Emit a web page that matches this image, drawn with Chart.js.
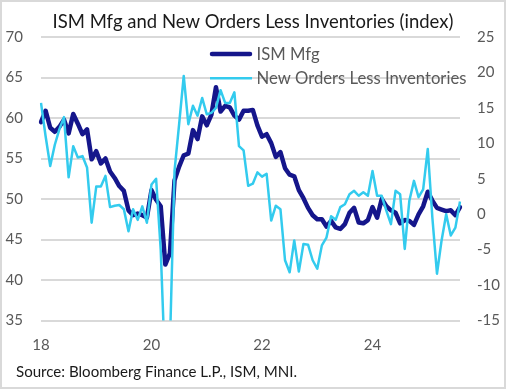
<!DOCTYPE html>
<html><head><meta charset="utf-8">
<script src="https://cdn.jsdelivr.net/npm/chart.js@4.4.1/dist/chart.umd.min.js"></script>
<style>html,body{margin:0;padding:0;background:#fff;}canvas{display:block;}</style>
</head><body>
<canvas id="c" width="506" height="389" style="width:506px;height:389px"></canvas>
<script>
// ---- data ----
const startYear = 2018;
const months = [];
for (let i = 0; i < 92; i++) {
  const y = startYear + Math.floor(i / 12), m = (i % 12) + 1;
  months.push(y + '-' + String(m).padStart(2, '0'));
}
const xTickLabels = ['18', '20', '22', '24'];
const leftTicks = [35, 40, 45, 50, 55, 60, 65, 70];
const rightTicks = [-15, -10, -5, 0, 5, 10, 15, 20, 25];

const ismMfg = [
  59.5, 60.9, 58.8, 58.3, 58.9, 59.8, 58.1, 60.5, 59.3, 58.0, 58.6, 54.9,
  55.9, 54.4, 55.0, 53.4, 52.6, 51.6, 51.0, 48.6, 48.0, 48.2, 48.0, 47.7,
  51.1, 49.9, 49.1, 41.9, 43.3, 52.3, 54.0, 55.4, 55.6, 58.5, 57.4, 60.2,
  59.1, 60.4, 63.8, 60.8, 61.5, 61.3, 60.3, 59.8, 60.9, 60.9, 61.0, 59.1,
  57.7, 58.0, 56.9, 55.2, 55.8, 53.8, 53.0, 52.8, 51.1, 50.1, 48.9, 48.0,
  47.5, 47.5, 46.6, 47.3, 46.5, 46.3, 46.9, 48.3, 48.9, 47.1, 47.0, 47.4,
  49.0, 47.7, 50.0, 49.1, 48.6, 48.3, 47.0, 47.4, 47.3, 46.8, 48.1, 49.1,
  50.9, 49.8, 48.9, 48.7, 48.5, 48.6, 48.0, 49.0
];
const newOrdersLessInv = [
  15.7, 11.0, 6.8, 9.8, 12.0, 13.7, 5.2, 9.6, 8.0, 8.2, 6.6, -1.2,
  3.9, 3.9, 5.4, 1.0, 1.2, 1.3, 0.7, -2.4, 0.7, -0.8, 1.1, -1.2,
  4.2, 5.0, -5.0, -22.6, -18.4, 6.1, 12.7, 19.5, 12.7, 15.3, 13.9, 16.4,
  14.1, 14.3, 15.0, 17.5, 15.7, 15.7, 17.2, 9.6, 9.0, 4.0, 4.3, 5.9,
  5.3, 5.7, -0.9, 1.2, 0.7, -6.5, -8.2, -3.7, -8.1, -4.2, -4.3, -6.5,
  -7.7, -4.4, -3.3, -0.3, -0.8, 1.0, 1.4, 2.8, 3.3, 2.6, 3.1, 2.6,
  6.1, 2.6, 2.6, 0.5, -1.4, 3.3, 2.8, -4.9, 1.9, 4.7, 2.4, 3.5,
  9.2, -0.5, -8.4, -3.7, 0.0, -3.0, -1.9, 1.8
];

// ---- style ----
const DARK = '#15168b';
const LIGHT = '#33cbee';
const FAMILY = 'Lato, "Open Sans", sans-serif';
const TITLE = 'ISM Mfg and New Orders Less Inventories (index)';
const SOURCE = 'Source: Bloomberg Finance L.P., ISM, MNI.';

function fitSize(text, width, weight) {
  const c = document.createElement('canvas').getContext('2d');
  c.font = (weight || 'normal') + ' 100px ' + FAMILY;
  return 100 * width / c.measureText(text).width;
}
const titleSize = fitSize(TITLE, 401);
const legendSize = fitSize('New Orders Less Inventories', 210);
const sourceSize = fitSize(SOURCE, 281);

const decor = {
  id: 'decor',
  beforeDraw(chart) {
    const ctx = chart.ctx;
    ctx.save(); ctx.fillStyle = '#fff'; ctx.fillRect(0, 0, chart.width, chart.height); ctx.restore();
  },
  afterDraw(chart) {
    const ctx = chart.ctx;
    ctx.save();
    // legend
    const rows = [{ y: 54, base: 59.5 }, { y: 78.3, base: 84 }];
    chart.data.datasets.forEach((ds, i) => {
      const r = rows[i];
      ctx.strokeStyle = ds.borderColor;
      ctx.lineWidth = ds.borderWidth;
      ctx.lineCap = i === 0 ? 'round' : 'butt';
      ctx.beginPath(); ctx.moveTo(i === 0 ? 212 : 210, r.y); ctx.lineTo(i === 0 ? 250 : 252, r.y); ctx.stroke();
      ctx.fillStyle = '#595959';
      ctx.font = legendSize.toFixed(2) + 'px ' + FAMILY;
      ctx.textBaseline = 'alphabetic'; ctx.textAlign = 'left';
      ctx.fillText(ds.label, 256.5, r.base);
    });
    // source
    ctx.fillStyle = '#1a1a1a';
    ctx.font = sourceSize.toFixed(2) + 'px ' + FAMILY;
    ctx.fillText(SOURCE, 16, 376.5);
    // frame
    ctx.strokeStyle = '#d9d9d9'; ctx.lineWidth = 2;
    ctx.strokeRect(1, 1, chart.width - 2, chart.height - 2);
    ctx.restore();
  }
};

new Chart(document.getElementById('c'), {
  type: 'line',
  data: {
    labels: months,
    datasets: [
      { label: 'ISM Mfg', data: ismMfg, yAxisID: 'yL', borderColor: DARK, borderWidth: 4.5,
        pointRadius: 0, tension: 0, order: 1, borderJoinStyle: 'round', borderCapStyle: 'round' },
      { label: 'New Orders Less Inventories', data: newOrdersLessInv, yAxisID: 'yR', borderColor: LIGHT, borderWidth: 2.5,
        pointRadius: 0, tension: 0, order: 0, borderJoinStyle: 'round' }
    ]
  },
  options: {
    responsive: false,
    animation: false,
    devicePixelRatio: 1,
    layout: { padding: { left: 0, right: 0, top: 0, bottom: 0 } },
    plugins: {
      legend: { display: false },
      tooltip: { enabled: false },
      title: {
        display: true, text: TITLE, color: '#1a1a1a',
        font: { family: FAMILY, size: titleSize, weight: 'normal', lineHeight: 1.2 },
        padding: { top: 11, bottom: 37 - 11 - titleSize * 1.2 }
      }
    },
    scales: {
      x: {
        type: 'category',
        grid: { display: false }, border: { display: false },
        ticks: {
          autoSkip: false, maxRotation: 0, minRotation: 0, padding: 8,
          color: '#595959', font: { family: FAMILY, size: 15 },
          callback: function (v, i) {
            const lab = months[i];
            const yy = lab.slice(2, 4);
            return (lab.endsWith('-01') && xTickLabels.includes(yy)) ? yy : '';
          }
        },
        afterFit(s) { s.height = 389 - 320.5; }
      },
      yL: {
        position: 'left', min: leftTicks[0], max: leftTicks[leftTicks.length - 1],
        afterBuildTicks(s) { s.ticks = leftTicks.map(v => ({ value: v })); },
        grid: { color: '#d9d9d9', lineWidth: 2, drawTicks: false }, border: { display: false },
        ticks: { padding: 18, color: '#595959', font: { family: FAMILY, size: 15 } },
        afterFit(s) { s.width = 41; }
      },
      yR: {
        position: 'right', min: rightTicks[0], max: rightTicks[rightTicks.length - 1],
        afterBuildTicks(s) { s.ticks = rightTicks.map(v => ({ value: v })); },
        grid: { drawOnChartArea: false, drawTicks: false }, border: { display: false },
        ticks: { padding: 17, color: '#595959', font: { family: FAMILY, size: 15 } },
        afterFit(s) { s.width = 46; }
      }
    }
  },
  plugins: [decor]
});
</script>
</body></html>
